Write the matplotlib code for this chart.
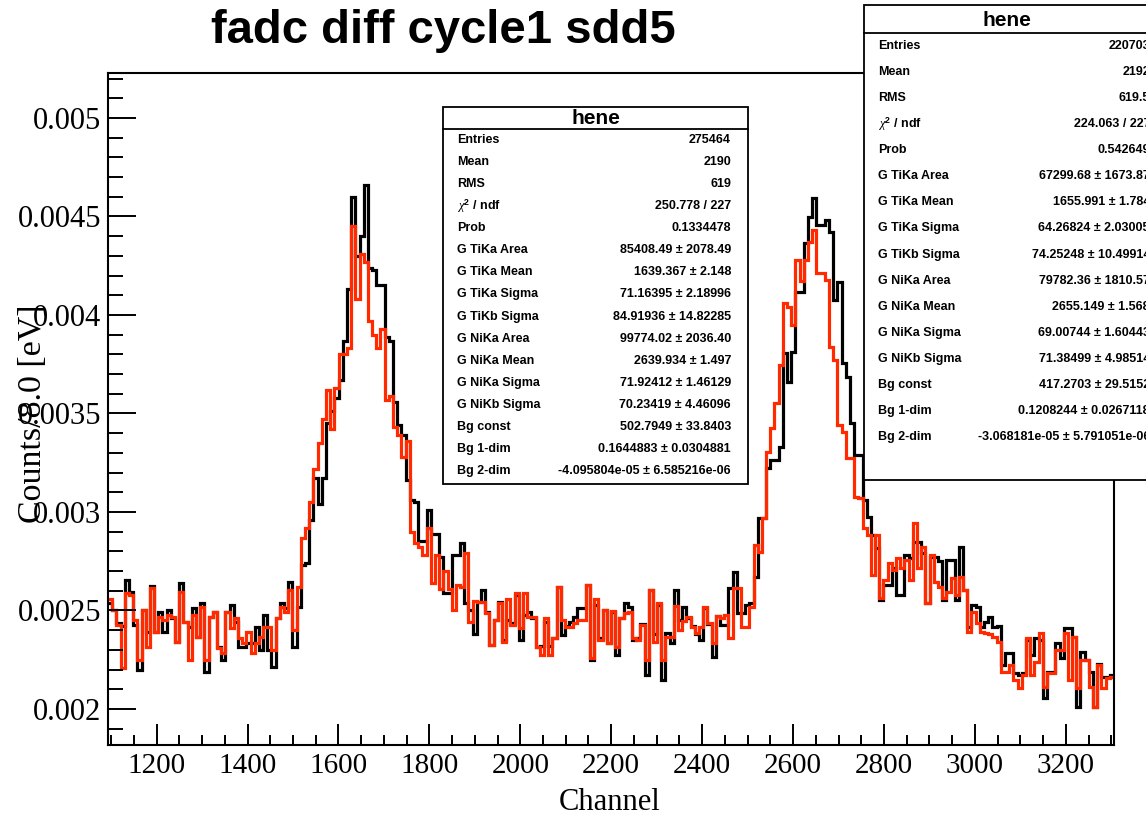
import numpy as np
import matplotlib
matplotlib.use('Agg')
import matplotlib.pyplot as plt
from matplotlib.patches import Rectangle
from matplotlib.lines import Line2D
from matplotlib.ticker import MultipleLocator, FixedLocator, FixedFormatter

plt.rcParams.update({'font.family': 'Liberation Serif'})
plt.rcParams.update({'mathtext.fontset': 'custom'})
plt.rcParams.update({'mathtext.rm': 'Liberation Sans:bold'})
plt.rcParams.update({'mathtext.it': 'Liberation Serif:italic'})

W, H = 1146, 816  # canvas in pixels

#%% data (counts / 8.0 eV, one value per bin)
chan_lo, chan_hi = 1093, 3306

black_counts = [
    0.002536, 0.002503, 0.002435, 0.002420, 0.002655, 0.002596, 0.002427, 0.002198, 0.002503, 0.002393,
    0.002624, 0.002393, 0.002494, 0.002393, 0.002503, 0.002460, 0.002342, 0.002638, 0.002443, 0.002418,
    0.002511, 0.002367, 0.002536, 0.002190, 0.002469, 0.002494, 0.002316, 0.002249, 0.002494, 0.002528,
    0.002443, 0.002316, 0.002316, 0.002334, 0.002334, 0.002418, 0.002300, 0.002477, 0.002300, 0.002215,
    0.002460, 0.002536, 0.002511, 0.002646, 0.002316,
    0.00252, 0.00273, 0.00274, 0.00296, 0.00317, 0.00304, 0.00317, 0.00345, 0.00351, 0.00358,
    0.00367, 0.00387, 0.00413, 0.00460, 0.00430, 0.00440, 0.00466, 0.00424, 0.00423, 0.00415,
    0.00415, 0.00389, 0.00387, 0.00356, 0.00344, 0.00339, 0.00316, 0.00306, 0.00305, 0.00285,
    0.00285, 0.00301, 0.00289, 0.00289, 0.00277, 0.00259, 0.00259, 0.00278, 0.00278, 0.00284,
    0.00254, 0.00250, 0.00238,
    0.002545, 0.002604, 0.00249, 0.002325, 0.002452, 0.002545, 0.00235, 0.00245, 0.002435, 0.00258,
    0.00235, 0.002478, 0.00249, 0.00246, 0.002316, 0.00232, 0.00244, 0.00232, 0.00236, 0.00262,
    0.002376, 0.00242, 0.00244, 0.002466, 0.00251, 0.00251, 0.00263, 0.00225, 0.00253, 0.00236,
    0.0025, 0.002333, 0.00249, 0.002274, 0.00246, 0.002537, 0.00252, 0.00235, 0.00236, 0.00243,
    0.002173, 0.002604, 0.00238, 0.00253, 0.002147, 0.002384, 0.002333, 0.002604, 0.00245, 0.00252,
    0.00246, 0.00242, 0.00238, 0.00235, 0.00251, 0.00243, 0.002266, 0.00247,
    0.002426, 0.002426, 0.002613, 0.002697, 0.002486, 0.002486, 0.002528, 0.002537, 0.002672, 0.002968,
    0.002968, 0.003222, 0.003264, 0.003264, 0.003332, 0.003805, 0.003661, 0.003814, 0.004118, 0.004118,
    0.004364, 0.004499, 0.004592, 0.004457, 0.004457, 0.004482, 0.004423, 0.004076, 0.004169, 0.003755,
    0.003687, 0.00345, 0.003289, 0.003289, 0.003061, 0.002976, 0.002883, 0.002816, 0.002553, 0.002629,
    0.002629, 0.002714, 0.002579,
    0.002579, 0.002782, 0.002765, 0.002849, 0.002849, 0.00279, 0.002537, 0.002773, 0.002773, 0.00275,
    0.002553, 0.002756, 0.002756, 0.002553, 0.002824, 0.002604, 0.002418, 0.002528, 0.002519, 0.002418,
    0.00244, 0.002469, 0.002418, 0.00242, 0.002223, 0.002283, 0.002283, 0.002181, 0.002173, 0.00218,
    0.00235, 0.002274, 0.002359, 0.00235, 0.002054, 0.002189, 0.002189, 0.002333, 0.002257, 0.00241,
    0.00241, 0.002367, 0.002012, 0.002291, 0.00225, 0.002189, 0.002012, 0.00223, 0.002164, 0.002164,
    0.00217,
]

red_counts = [
    0.002557, 0.002503, 0.002427, 0.002207, 0.002587, 0.002579, 0.002452, 0.002249, 0.002503, 0.002316,
    0.002612, 0.002393, 0.002469, 0.002452, 0.002477, 0.002469, 0.002342, 0.002596, 0.002443, 0.002249,
    0.002477, 0.002367, 0.002520, 0.002249, 0.002469, 0.002494, 0.002308, 0.002283, 0.002494, 0.002410,
    0.002460, 0.002359, 0.002334, 0.002393, 0.002283, 0.002334, 0.002367, 0.002418, 0.002418, 0.002300,
    0.002460, 0.002520, 0.002494, 0.002604, 0.002401,
    0.00262, 0.00287, 0.00292, 0.00305, 0.00322, 0.00335, 0.00347, 0.00362, 0.00342, 0.00363,
    0.00380, 0.00380, 0.00383, 0.00445, 0.00408, 0.00431, 0.00427, 0.00397, 0.00390, 0.00383,
    0.00393, 0.00357, 0.00359, 0.00343, 0.00339, 0.00328, 0.00336, 0.00290, 0.00284, 0.00282,
    0.00278, 0.00292, 0.00264, 0.00278, 0.00261, 0.00270, 0.00261, 0.00250, 0.00263, 0.00262,
    0.00279, 0.00244, 0.00255,
    0.002545, 0.002545, 0.002486, 0.002325, 0.002452, 0.002537, 0.00234, 0.00256, 0.002427, 0.00259,
    0.00241, 0.002587, 0.002469, 0.002469, 0.002316, 0.002274, 0.00246, 0.002274, 0.002358, 0.00262,
    0.002452, 0.002418, 0.002418, 0.002435, 0.002452, 0.00245, 0.00263, 0.002257, 0.002556, 0.00235,
    0.002503, 0.002333, 0.002495, 0.002316, 0.00246, 0.002486, 0.00249, 0.002358, 0.00235, 0.002427,
    0.002249, 0.002604, 0.00234, 0.002537, 0.002249, 0.002364, 0.002364, 0.002522, 0.002401, 0.002444,
    0.002466, 0.002418, 0.002384, 0.002418, 0.00252, 0.002435, 0.002333, 0.00247,
    0.00246, 0.002477, 0.002359, 0.002613, 0.002613, 0.002418, 0.002418, 0.002519, 0.002832, 0.002798,
    0.002968, 0.003306, 0.003425, 0.003552, 0.003746, 0.004059, 0.004042, 0.003949, 0.004279, 0.00417,
    0.004279, 0.004372, 0.004431, 0.004212, 0.004212, 0.004178, 0.003839, 0.003772, 0.003442, 0.003408,
    0.003273, 0.003273, 0.003078, 0.00307, 0.002917, 0.002883, 0.00268, 0.002883, 0.002562, 0.002655,
    0.00274, 0.002706, 0.002765,
    0.002714, 0.002756, 0.002655, 0.002946, 0.002714, 0.002824, 0.002537, 0.002782, 0.002646, 0.00262,
    0.002562, 0.002595, 0.002663, 0.002579, 0.002672, 0.002604, 0.002392, 0.002494, 0.002435, 0.002392,
    0.002384, 0.00238, 0.002367, 0.002342, 0.002189, 0.002189, 0.002223, 0.002147, 0.002105, 0.002173,
    0.002359, 0.002173, 0.00224, 0.002384, 0.002113, 0.002181, 0.002181, 0.002299, 0.002299, 0.002384,
    0.002147, 0.002367, 0.002105, 0.002249, 0.002249, 0.002113, 0.002012, 0.002223, 0.002105, 0.002156,
    0.00216,
]

ytick_vals = [0.002, 0.0025, 0.003, 0.0035, 0.004, 0.0045, 0.005]
ytick_labels = ['0.002', '0.0025', '0.003', '0.0035', '0.004', '0.0045', '0.005']

stat_names = ['Entries', 'Mean', 'RMS', r'$\chi^{2}$ / ndf', 'Prob',
              'G TiKa Area', 'G TiKa Mean', 'G TiKa Sigma', 'G TiKb Sigma',
              'G NiKa Area', 'G NiKa Mean', 'G NiKa Sigma', 'G NiKb Sigma',
              'Bg const', 'Bg 1-dim', 'Bg 2-dim']
stats_left = ['275464', '2190', '619', '250.778 / 227', '0.1334478',
              '85408.49 \u00b1 2078.49', '1639.367 \u00b1 2.148', '71.16395 \u00b1 2.18996',
              '84.91936 \u00b1 14.82285', '99774.02 \u00b1 2036.40', '2639.934 \u00b1 1.497',
              '71.92412 \u00b1 1.46129', '70.23419 \u00b1 4.46096', '502.7949 \u00b1 33.8403',
              '0.1644883 \u00b1 0.0304881', '-4.095804e-05 \u00b1 6.585216e-06']
stats_right = ['220703', '2192', '619.5', '224.063 / 227', '0.542649',
               '67299.68 \u00b1 1673.87', '1655.991 \u00b1 1.784', '64.26824 \u00b1 2.03005',
               '74.25248 \u00b1 10.49914', '79782.36 \u00b1 1810.57', '2655.149 \u00b1 1.568',
               '69.00744 \u00b1 1.60443', '71.38499 \u00b1 4.98514', '417.2703 \u00b1 29.5152',
               '0.1208244 \u00b1 0.0267118', '-3.068181e-05 \u00b1 5.791051e-06']

#%% helpers, pixel -> figure fraction
def fx(px):
    return px / W

def fy(py):
    return 1 - py / H

#%% the plot
fig = plt.figure(figsize=(W / 100, H / 100), dpi=100)
ax = fig.add_axes([fx(108), fy(745), (1114 - 108) / W, (745 - 73) / H])

edges = np.linspace(chan_lo, chan_hi, len(black_counts) + 1)
ax.stairs(black_counts, edges, color='black', lw=2.3, baseline=None)
ax.stairs(red_counts, edges, color='#ff2a00', lw=2.3, baseline=None)

ax.set_xlim(chan_lo, chan_hi)
ax.set_ylim(0.001817, 0.005228)
ax.xaxis.set_major_locator(MultipleLocator(200))
ax.xaxis.set_minor_locator(MultipleLocator(50))
ax.yaxis.set_major_locator(FixedLocator(ytick_vals))
ax.yaxis.set_major_formatter(FixedFormatter(ytick_labels))
ax.yaxis.set_minor_locator(MultipleLocator(0.0001))
ax.tick_params(axis='both', which='both', direction='in', top=False, right=False,
               width=1.4, labelsize=21)
ax.tick_params(axis='y', which='major', length=20, pad=5, labelsize=22)
ax.tick_params(axis='y', which='minor', length=11)
ax.tick_params(axis='x', which='major', length=15, pad=6)
ax.tick_params(axis='x', which='minor', length=7)
for sp in ax.spines.values():
    sp.set_linewidth(1.5)

fig.text(fx(610), fy(803), 'Channel', ha='center', va='center', fontsize=22)
fig.text(fx(33), fy(414), 'Counts/8.0 [eV]', ha='center', va='center',
         rotation=90, fontsize=24.5)
fig.text(fx(443), fy(43), 'fadc diff cycle1 sdd5', ha='center', va='baseline',
         fontsize=34, fontweight='bold', family='Liberation Sans')

#%% stats boxes
def stats_box(x0, y0, x1, y1, title_y, line_y, rows_y, lab_x, val_x, values):
    fig.add_artist(Rectangle((fx(x0), fy(y1)), fx(x1) - fx(x0), fy(y0) - fy(y1),
                             transform=fig.transFigure, facecolor='white',
                             edgecolor='black', lw=1.3, zorder=5))
    fig.add_artist(Line2D([fx(x0), fx(x1)], [fy(line_y), fy(line_y)],
                          transform=fig.transFigure, color='black', lw=1.3, zorder=6))
    fig.text(fx((x0 + min(x1, W + 4)) / 2), fy(title_y), 'hene', ha='center', va='center',
             fontsize=15, fontweight='bold', family='Liberation Sans', zorder=7)
    for name, val, ry in zip(stat_names, values, rows_y):
        fig.text(fx(lab_x), fy(ry), name, ha='left', va='center', fontsize=9,
                 fontweight='bold', family='Liberation Sans', zorder=7)
        fig.text(fx(val_x), fy(ry), val, ha='right', va='center', fontsize=9,
                 fontweight='bold', family='Liberation Sans', zorder=7)

stats_box(443, 107, 748, 484, 118, 129, np.linspace(140, 471, 16), 457, 731, stats_left)
stats_box(864, 5, 1160, 480, 21, 33, np.linspace(46, 437, 16), 878, 1150, stats_right)

fig.savefig('out.png', dpi=100)
